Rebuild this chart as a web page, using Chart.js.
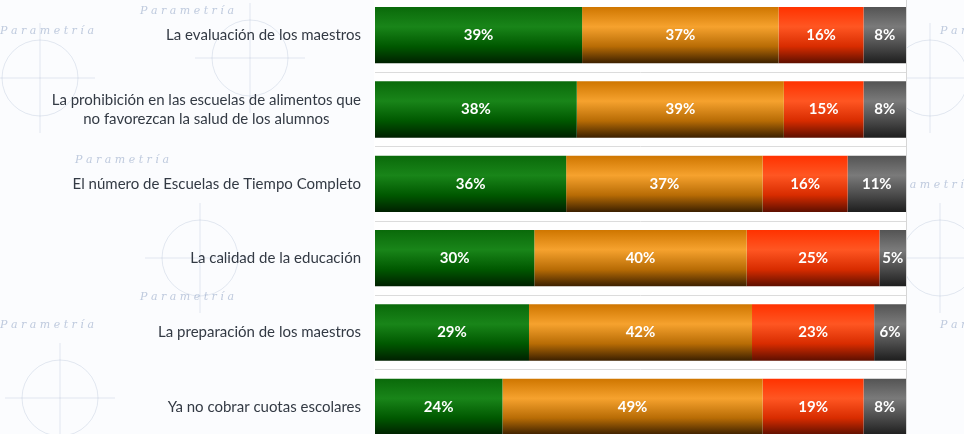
<!DOCTYPE html>
<html>
<head>
<meta charset="utf-8">
<script src="https://cdn.jsdelivr.net/npm/chart.js@4.4.0/dist/chart.umd.min.js"></script>
<style>
  html, body { margin: 0; padding: 0; overflow: hidden; background: #fbfcfe; }
  #wrap { position: absolute; left: 0; top: -2px; width: 964px; height: 446px; }
</style>
</head>
<body>
<div id="wrap"><canvas id="chart"></canvas></div>
<script>
// Categories (top to bottom)
const categories = [
  "La evaluación de los maestros",
  ["La prohibición en las escuelas de alimentos que", "no favorezcan la salud de los alumnos"],
  "El número de Escuelas de Tiempo Completo",
  "La calidad de la educación",
  "La preparación de los maestros",
  "Ya no cobrar cuotas escolares"
];

// Series values (%)
const greenValues  = [39, 38, 36, 30, 29, 24];
const orangeValues = [37, 39, 37, 40, 42, 49];
const redValues    = [16, 15, 16, 25, 23, 19];
const grayValues   = [8, 8, 11, 5, 6, 8];

// Gradient stops per series (top -> bottom)
const greenStops  = ["#0a6a0a", "#198519", "#005800", "#002000"];
const orangeStops = ["#cf7600", "#f6a22e", "#b86c05", "#3c2000"];
const redStops    = ["#ff3200", "#ff5622", "#d82c00", "#5e0f00"];
const grayStops   = ["#545454", "#7a7a7a", "#4a4a4a", "#1e1e1e"];

function barGradient(stops) {
  return function (ctx) {
    const chart = ctx.chart;
    const y = chart.scales.y;
    if (!chart.chartArea || !y || ctx.dataIndex === undefined) return stops[1];
    const center = y.getPixelForValue(ctx.dataIndex);
    const half = (y.height / categories.length) * 0.757 / 2;
    const g = chart.ctx.createLinearGradient(0, center - half, 0, center + half);
    g.addColorStop(0, stops[0]);
    g.addColorStop(0.35, stops[1]);
    g.addColorStop(0.7, stops[2]);
    g.addColorStop(1, stops[3]);
    return g;
  };
}

// White plot area + watermark
const backdrop = {
  id: "backdrop",
  beforeDraw(chart) {
    const { ctx, chartArea: a } = chart;
    ctx.save();
    // faint watermark
    ctx.strokeStyle = "rgba(150,170,200,0.25)";
    ctx.lineWidth = 1;
    const marks = [[40, 80], [250, 60], [200, 260], [60, 400], [470, 380], [930, 80], [940, 260]];
    marks.forEach(([mx, my]) => {
      ctx.beginPath(); ctx.arc(mx, my, 38, 0, Math.PI * 2); ctx.stroke();
      ctx.beginPath(); ctx.moveTo(mx - 55, my); ctx.lineTo(mx + 55, my);
      ctx.moveTo(mx, my - 55); ctx.lineTo(mx, my + 55); ctx.stroke();
    });
    ctx.fillStyle = "rgba(140,160,195,0.55)";
    ctx.font = "italic 11px 'DejaVu Serif'";
    const words = [[0, 36], [140, 16], [75, 165], [140, 302], [0, 330], [940, 36], [940, 330], [880, 190]];
    words.forEach(([wx, wy]) => ctx.fillText("P a r a m e t r í a", wx, wy));
    // plot area
    ctx.fillStyle = "#ffffff";
    ctx.fillRect(a.left - 1, 0, a.right - a.left + 2, chart.height);
    ctx.strokeStyle = "#d6d6d6";
    ctx.beginPath();
    ctx.moveTo(a.right + 0.5, 0); ctx.lineTo(a.right + 0.5, chart.height);
    ctx.stroke();
    ctx.restore();
  }
};

// Category labels, multi-line centred, block right-aligned
const categoryLabels = {
  id: "categoryLabels",
  afterDraw(chart) {
    const { ctx } = chart;
    const y = chart.scales.y;
    const right = chart.chartArea.left - 14;
    ctx.save();
    ctx.font = "15px Lato";
    ctx.fillStyle = "#333a44";
    ctx.textBaseline = "middle";
    ctx.textAlign = "center";
    categories.forEach((label, i) => {
      const lines = Array.isArray(label) ? label : [label];
      const maxW = Math.max(...lines.map(l => ctx.measureText(l).width));
      const cy = y.getPixelForValue(i);
      const lh = 19;
      lines.forEach((line, j) => {
        ctx.fillText(line, right - maxW / 2, cy + (j - (lines.length - 1) / 2) * lh);
      });
    });
    ctx.restore();
  }
};

// Value labels inside segments
const valueLabels = {
  id: "valueLabels",
  afterDatasetsDraw(chart) {
    const { ctx } = chart;
    ctx.save();
    ctx.font = "bold 15px Lato";
    ctx.fillStyle = "#ffffff";
    ctx.textAlign = "center";
    ctx.textBaseline = "middle";
    chart.data.datasets.forEach((ds, di) => {
      chart.getDatasetMeta(di).data.forEach((bar, i) => {
        const x = (bar.x + bar.base) / 2;
        ctx.fillText(ds.data[i] + "%", x, bar.y);
      });
    });
    ctx.restore();
  }
};

new Chart(document.getElementById("chart"), {
  type: "bar",
  data: {
    labels: categories,
    datasets: [
      { label: "green", data: greenValues, backgroundColor: barGradient(greenStops) },
      { label: "orange", data: orangeValues, backgroundColor: barGradient(orangeStops) },
      { label: "red", data: redValues, backgroundColor: barGradient(redStops) },
      { label: "gray", data: grayValues, backgroundColor: barGradient(grayStops) }
    ]
  },
  options: {
    indexAxis: "y",
    responsive: true,
    maintainAspectRatio: false,
    animation: false,
    layout: { padding: { left: 0, right: 58, top: 0, bottom: 0 } },
    datasets: { bar: { barPercentage: 0.757, categoryPercentage: 1, borderWidth: 0 } },
    plugins: { legend: { display: false }, tooltip: { enabled: false } },
    scales: {
      x: { stacked: true, min: 0, max: 100, display: false },
      y: {
        stacked: true,
        border: { display: false },
        grid: { color: "#dcdcdc", drawTicks: false, offset: true },
        ticks: { display: false },
        afterFit(scale) { scale.width = 375; }
      }
    }
  },
  plugins: [backdrop, categoryLabels, valueLabels]
});
</script>
</body>
</html>
